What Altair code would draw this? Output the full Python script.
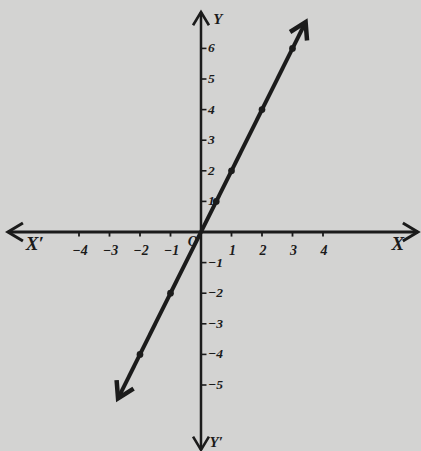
import altair as alt
import pandas as pd

# Graph of y = 2x on a pair of coordinate axes
x_ticks = [-4, -3, -2, -1, 1, 2, 3, 4]
x_tick_labels = ["−4", "−3", "−2", "−1", "1", "2", "3", "4"]
y_ticks = [-5, -4, -3, -2, -1, 1, 2, 3, 4, 5, 6]
y_tick_labels = ["−5", "−4", "−3", "−2", "−1", "1", "2", "3", "4", "5", "6"]

# plotted points of the line
point_x = [-2, -1, 0.5, 1, 2, 3]
point_y = [-4, -2, 1, 2, 4, 6]

# ends of the drawn line (arrow tips)
line_x = [-2.72, 3.43]
line_y = [-5.44, 6.86]

# ends of the axes (arrow tips)
axis_x_ends = [-6.33, 7.11]
axis_y_ends = [-7.12, 7.19]

INK = "#1b1b1b"
PAPER = "#d3d3d2"
FONT = "Liberation Serif"

XS = alt.Scale(domain=[-6.590, 7.213], nice=False, zero=False)
YS = alt.Scale(domain=[-7.157, 7.582], nice=False, zero=False)


def X(field="x"):
    return alt.X(f"{field}:Q", scale=XS, axis=None)


def Y(field="y"):
    return alt.Y(f"{field}:Q", scale=YS, axis=None)


# axis lines
x_axis = alt.Chart(pd.DataFrame({"x": [axis_x_ends[0]], "x2": [axis_x_ends[1]], "y": [0]})).mark_rule(
    color=INK, strokeWidth=3
).encode(x=X(), x2="x2:Q", y=Y())

y_axis = alt.Chart(pd.DataFrame({"y": [axis_y_ends[0]], "y2": [axis_y_ends[1]], "x": [0]})).mark_rule(
    color=INK, strokeWidth=2.5
).encode(y=Y(), y2="y2:Q", x=X())

# tick marks
x_tick_df = pd.DataFrame({"x": x_ticks, "y": [0] * len(x_ticks), "y2": [-0.15] * len(x_ticks)})
x_tick_marks = alt.Chart(x_tick_df).mark_rule(color=INK, strokeWidth=1.8).encode(
    x=X(), y=Y(), y2="y2:Q"
)
y_tick_df = pd.DataFrame({"y": y_ticks, "x": [0] * len(y_ticks), "x2": [0.18] * len(y_ticks)})
y_tick_marks = alt.Chart(y_tick_df).mark_rule(color=INK, strokeWidth=1.6).encode(
    y=Y(), x=X(), x2="x2:Q"
)

# tick labels
x_lab_df = pd.DataFrame({"x": x_ticks, "y": [-0.62] * len(x_ticks), "t": x_tick_labels})
x_labels = alt.Chart(x_lab_df).mark_text(
    font=FONT, fontStyle="italic", fontWeight="bold", fontSize=14, color=INK, dx=1
).encode(x=X(), y=Y(), text="t:N")

y_lab_df = pd.DataFrame({"y": y_ticks, "x": [0.2] * len(y_ticks), "t": y_tick_labels})
y_labels = alt.Chart(y_lab_df).mark_text(
    font=FONT, fontStyle="italic", fontWeight="bold", fontSize=13.5, color=INK, align="left", dx=1
).encode(x=X(), y=Y(), text="t:N")

# axis names and origin
names_df = pd.DataFrame({
    "x": [-5.45, 6.45, 0.55, 0.5, -0.27],
    "y": [-0.38, -0.38, 6.95, -6.85, -0.33],
    "t": ["X′", "X", "Y", "Y′", "O"],
    "s": [19, 19, 15, 15, 14],
})
names = alt.Chart(names_df).mark_text(
    font=FONT, fontStyle="italic", fontWeight="bold", color=INK
).encode(x=X(), y=Y(), text="t:N", size=alt.Size("s:Q", scale=None, legend=None))

# the line y = 2x
line_df = pd.DataFrame({"x": line_x, "y": line_y})
line = alt.Chart(line_df).mark_line(color=INK, strokeWidth=4).encode(x=X(), y=Y())

points_df = pd.DataFrame({"x": point_x, "y": point_y})
points = alt.Chart(points_df).mark_point(filled=True, color=INK, size=45, opacity=1).encode(x=X(), y=Y())

# arrowheads (open chevrons) at the ends of the axes and the line
chevron = "M -0.6 1 L 0 0 L 0.6 1"
arrow_df = pd.DataFrame({
    "x": [axis_x_ends[0], axis_x_ends[1], 0, 0, line_x[0], line_x[1]],
    "y": [0, 0, axis_y_ends[1], axis_y_ends[0], line_y[0], line_y[1]],
    "a": [270, 90, 0, 180, 206.5, 26.5],
    "w": [3, 3, 2.6, 2.6, 4.5, 4.5],
    "s": [900, 900, 700, 700, 1000, 1000],
})
arrows = alt.Chart(arrow_df).mark_point(
    shape=chevron, filled=False, color=INK, opacity=1, strokeJoin="miter", strokeCap="butt"
).encode(
    x=X(), y=Y(),
    angle=alt.Angle("a:Q", scale=None),
    strokeWidth=alt.StrokeWidth("w:Q", scale=None, legend=None),
    size=alt.Size("s:Q", scale=None, legend=None),
)

chart = alt.layer(
    x_axis, y_axis, x_tick_marks, y_tick_marks, x_labels, y_labels, names, line, points, arrows
).properties(
    width=421, height=451, background=PAPER, padding=0, autosize=alt.AutoSizeParams(type="none")
).configure_view(stroke=None)

chart.save("out.html", embed_options={"renderer": "svg", "actions": False})
